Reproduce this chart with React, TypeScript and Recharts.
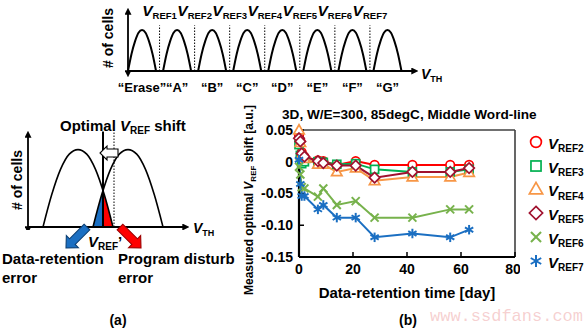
import React from 'react';
import { ComposedChart, LineChart, Line, Area, XAxis, YAxis, ReferenceLine } from 'recharts';

// (b) measured optimal VREF shift vs. retention time
const days = [0, 0.5, 1, 2, 7, 9, 14, 21, 28, 42, 56, 63];
const vref2 = [0.041, 0.033, 0.015, 0.008, 0.002, 0.001, -0.005, 0.001, -0.005, -0.005, -0.005, -0.005];
const vref3 = [0.027, 0.010, -0.003, 0.000, 0.000, -0.001, -0.004, -0.003, -0.012, -0.016, -0.016, -0.012];
const vref4 = [0.050, 0.030, 0.011, 0.005, -0.004, -0.004, -0.016, -0.010, -0.030, -0.024, -0.024, -0.017];
const vref5 = [0.037, 0.032, 0.013, 0.008, 0.001, -0.002, -0.006, -0.006, -0.025, -0.016, -0.016, -0.010];
const vref6 = [-0.008, -0.020, -0.040, -0.042, -0.055, -0.042, -0.068, -0.062, -0.088, -0.088, -0.075, -0.075];
const vref7 = [0.003, -0.035, -0.054, -0.054, -0.075, -0.068, -0.088, -0.088, -0.119, -0.113, -0.119, -0.107];
const xTicks = [0, 20, 40, 60, 80];
const yTicks = [-0.15, -0.1, -0.05, 0, 0.05];

const series = [
  { key: 'v2', name: 'REF2', color: '#ff0000', mark: 'circle' },
  { key: 'v3', name: 'REF3', color: '#00b050', mark: 'square' },
  { key: 'v4', name: 'REF4', color: '#f79646', mark: 'triangle' },
  { key: 'v5', name: 'REF5', color: '#a0112e', mark: 'diamond' },
  { key: 'v6', name: 'REF6', color: '#77b24c', mark: 'cross' },
  { key: 'v7', name: 'REF7', color: '#1b6fc2', mark: 'star' },
];

const rows = days.map((d, i) => ({
  day: d, v2: vref2[i], v3: vref3[i], v4: vref4[i], v5: vref5[i], v6: vref6[i], v7: vref7[i],
}));

// (a) top: 8 state distributions
const states = ['“Erase”', '“A”', '“B”', '“C”', '“D”', '“E”', '“F”', '“G”'];
const stateCenters = [0, 1, 2, 3, 4, 5, 6, 7];
const humpOffsets = [-0.4, -0.3, -0.2, -0.1, 0, 0.1, 0.2, 0.3, 0.4];
const humpHeights = [0, 0.30, 0.52, 0.67, 0.72, 0.67, 0.52, 0.30, 0];
const vrefNames = ['REF1', 'REF2', 'REF3', 'REF4', 'REF5', 'REF6', 'REF7'];
const vrefPos = [0.5, 1.5, 2.5, 3.5, 4.5, 5.5, 6.5];

// (a) bottom: two neighbouring states
const pairCenters = [0, 1];
const pairOffsets = [-0.7, -0.525, -0.35, -0.175, 0, 0.175, 0.35, 0.525, 0.7];
const pairHeights = [0, 0.36, 0.64, 0.81, 0.86, 0.81, 0.64, 0.36, 0];
const retentionTail = [{ x: 0.3, y: 0 }, { x: 0.475, y: 0.36 }, { x: 0.5, y: 0.4 }];
const disturbTail = [{ x: 0.5, y: 0.4 }, { x: 0.525, y: 0.36 }, { x: 0.7, y: 0 }];

const F = '"Liberation Sans", Arial, Helvetica, sans-serif';

function Mark({ kind, cx, cy, color, s }: any) {
  if (cx == null || cy == null) return null;
  const w = 1.7;
  if (kind === 'circle') return <circle cx={cx} cy={cy} r={s * 0.45} fill="#fff" stroke={color} strokeWidth={w} />;
  if (kind === 'square')
    return <rect x={cx - s * 0.42} y={cy - s * 0.42} width={s * 0.84} height={s * 0.84} fill="#fff" stroke={color} strokeWidth={w} />;
  if (kind === 'triangle')
    return (
      <polygon
        points={`${cx},${cy - s * 0.55} ${cx + s * 0.55},${cy + s * 0.4} ${cx - s * 0.55},${cy + s * 0.4}`}
        fill="#fff" stroke={color} strokeWidth={w}
      />
    );
  if (kind === 'diamond')
    return (
      <polygon
        points={`${cx},${cy - s * 0.55} ${cx + s * 0.55},${cy} ${cx},${cy + s * 0.55} ${cx - s * 0.55},${cy}`}
        fill="#fff" stroke={color} strokeWidth={w}
      />
    );
  const h = s * 0.42;
  if (kind === 'cross')
    return (
      <g stroke={color} strokeWidth={w + 0.3}>
        <line x1={cx - h} y1={cy - h} x2={cx + h} y2={cy + h} />
        <line x1={cx - h} y1={cy + h} x2={cx + h} y2={cy - h} />
      </g>
    );
  const a = s * 0.5;
  return (
    <g stroke={color} strokeWidth={w + 0.3}>
      <line x1={cx} y1={cy - a} x2={cx} y2={cy + a} />
      <line x1={cx - a * 0.87} y1={cy - a * 0.5} x2={cx + a * 0.87} y2={cy + a * 0.5} />
      <line x1={cx - a * 0.87} y1={cy + a * 0.5} x2={cx + a * 0.87} y2={cy - a * 0.5} />
    </g>
  );
}

function Txt({ x, y, size = 15, anchor = 'start', rotate = false, italic = false, color = '#000', family = F, weight = 'bold', children }: any) {
  const tx = anchor === 'middle' ? '-50%' : anchor === 'end' ? '-100%' : '0';
  return (
    <div
      style={{
        position: 'absolute', left: x, top: y, whiteSpace: 'nowrap', lineHeight: 1,
        fontFamily: family, fontWeight: weight, fontSize: size, color, fontStyle: italic ? 'italic' : 'normal',
        transform: rotate ? 'translate(-50%,-50%) rotate(-90deg)' : `translate(${tx},-50%)`,
      }}
    >
      {children}
    </div>
  );
}

function V({ sub, size, subSize, prime }: any) {
  return (
    <span>
      <span style={{ fontStyle: 'italic', fontSize: size }}>V</span>
      <span style={{ fontSize: subSize, position: 'relative', top: size * 0.22 }}>{sub}</span>
      {prime ? <span style={{ fontSize: size }}>’</span> : null}
    </span>
  );
}

function BlockArrow({ x1, y1, x2, y2, sw, hw, hl, fill, stroke }: any) {
  const L = Math.hypot(x2 - x1, y2 - y1);
  const dx = (x2 - x1) / L, dy = (y2 - y1) / L;
  const nx = -dy, ny = dx;
  const bx = x2 - dx * hl, by = y2 - dy * hl;
  const p = [
    [x1 + nx * sw / 2, y1 + ny * sw / 2],
    [bx + nx * sw / 2, by + ny * sw / 2],
    [bx + nx * hw / 2, by + ny * hw / 2],
    [x2, y2],
    [bx - nx * hw / 2, by - ny * hw / 2],
    [bx - nx * sw / 2, by - ny * sw / 2],
    [x1 - nx * sw / 2, y1 - ny * sw / 2],
  ];
  return <polygon points={p.map((q) => q.join(',')).join(' ')} fill={fill} stroke={stroke} strokeWidth={1.1} />;
}

const axisArrow = { stroke: '#000', strokeWidth: 1.8, markerEnd: 'url(#arw)', markerStart: 'url(#arw)' };

export default function App() {
  return (
    <div style={{ position: 'absolute', left: 0, top: 0, width: 586, height: 328, background: '#fff', overflow: 'hidden', fontFamily: F }}>
      <svg width={0} height={0} style={{ position: 'absolute' }}>
        <defs>
          <marker id="arw" viewBox="0 0 10 10" refX="1" refY="5" markerWidth="7" markerHeight="7" markerUnits="userSpaceOnUse" orient="auto-start-reverse">
            <path d="M0,0 L10,5 L0,10 z" fill="#000" />
          </marker>
          <marker id="arwX" viewBox="0 0 10 10" refX="1" refY="5" markerWidth="7" markerHeight="7" markerUnits="userSpaceOnUse" orient="auto">
            <path d="M0,0 L10,5 L0,10 z" fill="#000" />
          </marker>
        </defs>
      </svg>

      {/* (a) top distributions */}
      <div style={{ position: 'absolute', left: 120, top: 0 }}>
        <ComposedChart width={300} height={80} margin={{ top: 14, right: 8, left: 6, bottom: 0 }}>
          <XAxis type="number" dataKey="x" domain={[-0.4, 7.7]} tick={false} tickLine={false} height={9}
            axisLine={{ stroke: '#000', strokeWidth: 1.8, markerEnd: 'url(#arwX)' }} allowDuplicatedCategory={false} />
          <YAxis type="number" domain={[0, 1]} tick={false} tickLine={false} width={2} axisLine={axisArrow} />
          {vrefPos.map((p) => (
            <ReferenceLine key={p} segment={[{ x: p, y: 0 }, { x: p, y: 0.8 }]} stroke="#000" strokeWidth={1} strokeDasharray="1.5 1.5" />
          ))}
          {stateCenters.map((c) => (
            <Line key={c} data={humpOffsets.map((o, i) => ({ x: c + o, y: humpHeights[i] }))} dataKey="y" type="monotone"
              stroke="#000" strokeWidth={2} dot={false} isAnimationActive={false} />
          ))}
        </ComposedChart>
      </div>
      {vrefPos.map((p, i) => (
        <Txt key={p} x={128 + (p + 0.4) * 35.06} y={11} anchor="middle">
          <V sub={vrefNames[i]} size={15.5} subSize={9.5} />
        </Txt>
      ))}
      {stateCenters.map((c, i) => (
        <Txt key={c} x={128 + (c + 0.4) * 35.06} y={87} size={13} anchor="middle">{states[i]}</Txt>
      ))}
      <Txt x={421} y={73}><V sub="TH" size={14} subSize={9} /></Txt>
      <Txt x={108} y={38} size={14} rotate># of cells</Txt>

      {/* (a) bottom: optimal VREF */}
      <div style={{ position: 'absolute', left: 20, top: 120 }}>
        <ComposedChart width={175} height={110} margin={{ top: 17, right: 12, left: 6, bottom: 0 }}>
          <XAxis type="number" dataKey="x" domain={[-1, 2.1]} tick={false} tickLine={false} height={3}
            axisLine={{ stroke: '#000', strokeWidth: 1.8, markerEnd: 'url(#arwX)' }} allowDuplicatedCategory={false} />
          <YAxis type="number" domain={[0, 1]} tick={false} tickLine={false} width={2} axisLine={axisArrow} />
          <Area data={retentionTail} dataKey="y" type="linear" stroke="none" fill="#1b6fc2" fillOpacity={1} isAnimationActive={false} />
          <Area data={disturbTail} dataKey="y" type="linear" stroke="none" fill="#ff0000" fillOpacity={1} isAnimationActive={false} />
          {pairCenters.map((c) => (
            <Line key={c} data={pairOffsets.map((o, i) => ({ x: c + o, y: pairHeights[i] }))} dataKey="y" type="monotone"
              stroke="#000" strokeWidth={1.6} dot={false} isAnimationActive={false} />
          ))}
          <ReferenceLine segment={[{ x: 0.72, y: 0 }, { x: 0.72, y: 1.06 }]} ifOverflow="visible" stroke="#000" strokeWidth={1} strokeDasharray="1.5 1.5" />
          <ReferenceLine segment={[{ x: 0.5, y: 0 }, { x: 0.5, y: 1.06 }]} ifOverflow="visible" stroke="#000" strokeWidth={2} />
        </ComposedChart>
      </div>
      <svg width={586} height={328} style={{ position: 'absolute', left: 0, top: 0, pointerEvents: 'none' }}>
        <BlockArrow x1={118} y1={153} x2={100} y2={153} sw={8} hw={14} hl={7} fill="#fff" stroke="#000" />
        <BlockArrow x1={87} y1={227} x2={66} y2={248} sw={8} hw={17} hl={9} fill="#1b6fc2" stroke="#0d3f73" />
        <BlockArrow x1={120} y1={227} x2={141} y2={248} sw={8} hw={17} hl={9} fill="#ff0000" stroke="#9a0000" />
      </svg>
      <Txt x={60} y={125}>Optimal <V sub="REF" size={15} subSize={10} /> shift</Txt>
      <Txt x={17} y={180} size={14} rotate># of cells</Txt>
      <Txt x={193} y={227}><V sub="TH" size={14} subSize={9} /></Txt>
      <Txt x={88} y={241}><V sub="REF" size={15} subSize={10} prime /></Txt>
      <Txt x={2} y={258}>Data-retention</Txt>
      <Txt x={2} y={277}>error</Txt>
      <Txt x={118} y={258}>Program disturb</Txt>
      <Txt x={118} y={277}>error</Txt>
      <Txt x={118} y={320} size={14} anchor="middle">(a)</Txt>

      {/* (b) measured shift */}
      <Txt x={282} y={115} size={13.6}>3D, W/E=300, 85degC, Middle Word-line</Txt>
      <div style={{ position: 'absolute', left: 240, top: 120 }}>
        <LineChart width={280} height={180} data={rows} margin={{ top: 10, right: 5, left: 0, bottom: 0 }}>
          <XAxis type="number" dataKey="day" domain={[0, 80]} ticks={xTicks} height={43}
            axisLine={{ stroke: '#000', strokeWidth: 2.2 }} tickLine={{ stroke: '#000', strokeWidth: 1.5 }}
            tickSize={-5} tickMargin={12}
            tick={{ fontSize: 14, fontWeight: 'bold', fill: '#000', fontFamily: F }} />
          <YAxis type="number" domain={[-0.15, 0.05]} ticks={yTicks} width={59}
            axisLine={{ stroke: '#000', strokeWidth: 2.2 }} tickLine={{ stroke: '#000', strokeWidth: 1.5 }}
            tickSize={-5} tickMargin={11}
            tickFormatter={(v: number) => (v === 0 ? '0' : v.toFixed(2))}
            tick={{ fontSize: 14, fontWeight: 'bold', fill: '#000', fontFamily: F }} />
          <ReferenceLine y={0.05} stroke="#404040" strokeWidth={1.6} />
          <ReferenceLine x={80} stroke="#404040" strokeWidth={1.6} />
          {series.map((s) => (
            <Line key={s.key} dataKey={s.key} stroke={s.color} strokeWidth={2} isAnimationActive={false}
              dot={(p: any) => <Mark key={p.index} kind={s.mark} cx={p.cx} cy={p.cy} color={s.color} s={9.5} />} />
          ))}
        </LineChart>
      </div>
      <Txt x={249} y={200} size={12} rotate>Measured optimal <V sub="REF" size={12} subSize={8} /> shift [a.u.]</Txt>
      <Txt x={407} y={292} anchor="middle">Data-retention time [day]</Txt>
      <Txt x={408} y={320} size={14} anchor="middle">(b)</Txt>

      {series.map((s, i) => (
        <React.Fragment key={s.key}>
          <svg width={16} height={16} style={{ position: 'absolute', left: 528, top: 134 + i * 23.7 }}>
            <Mark kind={s.mark} cx={8} cy={8} color={s.color} s={12} />
          </svg>
          <Txt x={548} y={143 + i * 23.7}><V sub={s.name} size={15} subSize={10} /></Txt>
        </React.Fragment>
      ))}

      <Txt x={430} y={316} size={17} weight="normal" color="rgba(235,150,150,0.45)" family='"Liberation Mono", monospace'>www.ssdfans.com</Txt>
    </div>
  );
}
